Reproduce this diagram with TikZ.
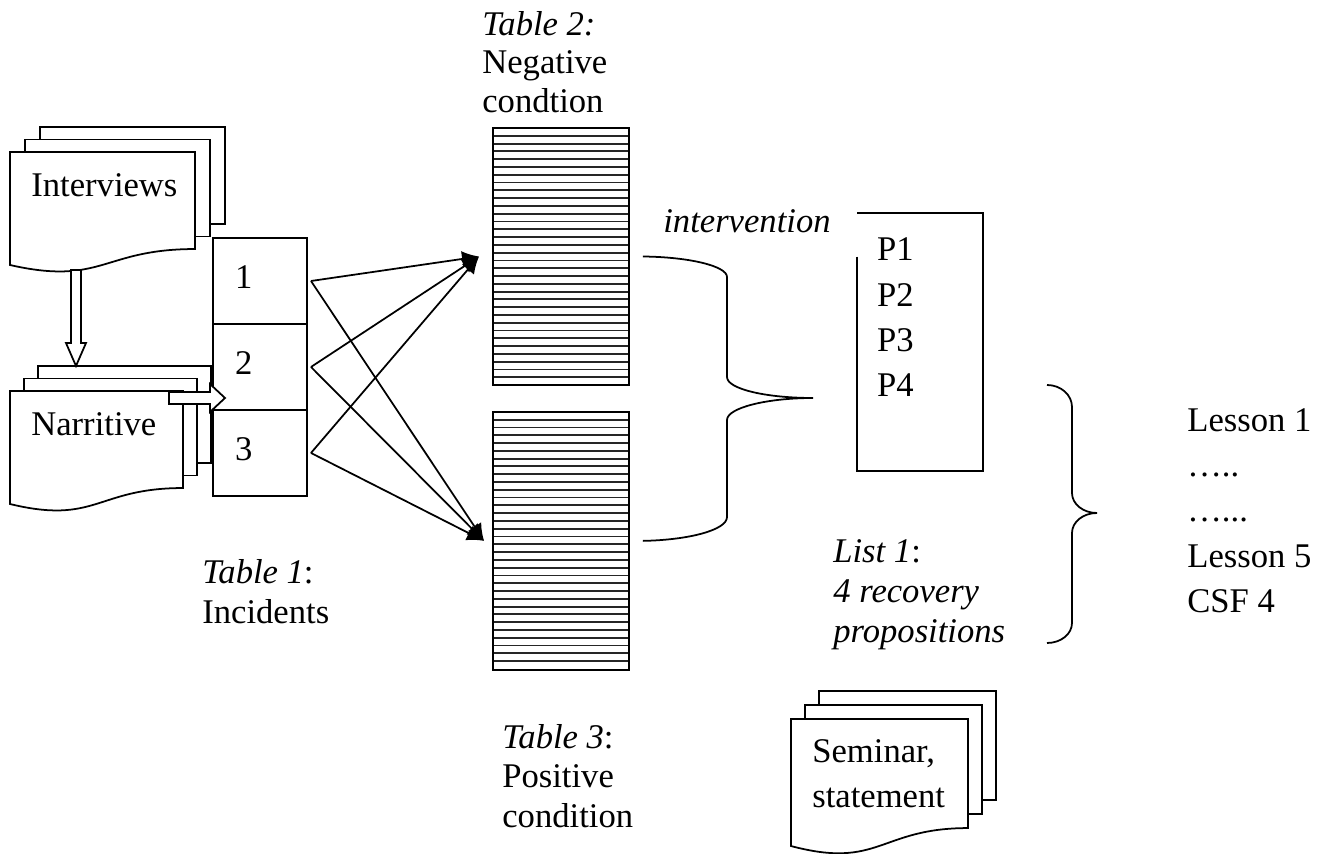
\documentclass[tikz,border=0pt]{standalone}
\usepackage{fontspec}
\setmainfont{Liberation Serif}
\usetikzlibrary{arrows.meta,positioning,calc}

% stack of pages: x, y (top left of front page), width, height, page shift x, y
\newcommand{\docstack}[6]{%
  \draw[page] (#1+2*#5,#2-2*#6) rectangle ++(#3,0.802*#4);
  \draw[page] (#1+#5,#2-#6) rectangle ++(#3,0.802*#4);
  \draw[page] (#1,#2) -- (#1+#3,#2) -- (#1+#3,#2+0.802*#4)
    .. controls (#1+0.5*#3,#2+0.802*#4) and (#1+0.5*#3,#2+1.1075*#4) .. (#1,#2+0.934*#4) -- cycle;}

\begin{document}
\begin{tikzpicture}[
    x=0.02cm, y=-0.02cm,
    font=\fontsize{19.7}{22.6}\selectfont,
    page/.style={draw, fill=white, line width=1pt},
    hollow/.style={draw, fill=white, line width=1pt},
    txt/.style={inner sep=0pt},
    tight/.style={inner sep=0pt, align=left, anchor=north west},
    loose/.style={inner sep=0pt, align=left, anchor=north west, font=\fontsize{19.7}{25.7}\selectfont},
    cell/.style={draw, line width=1pt, minimum width=1.88cm, minimum height=1.72cm, text width=1cm, inner xsep=0.44cm, align=left, text depth=0.4em, outer sep=0pt},
    stripes/.style={draw, line width=1.1pt, minimum width=2.72cm, minimum height=5.14cm, inner sep=0pt,
      path picture={\foreach \k in {1,...,32}
        \draw[black!85, line width=1.05pt] ([yshift=-\k*0.1558cm]path picture bounding box.north west) -- ([yshift=-\k*0.1558cm]path picture bounding box.north east);}},
    arr/.style={draw, line width=1pt, -{Latex[length=0.34cm,width=0.32cm]}},
    brace/.style={draw, line width=1pt}
]
    \useasboundingbox (0,0) rectangle (1326,854);

    % --- Sources ---
    \docstack{10}{152}{185}{121}{15}{12.5}
    \node[txt, anchor=base west] (ivtext) at (31,197) {Interviews};
    \docstack{10}{391}{173}{121}{14}{12.5}
    \node[txt, anchor=base west] (nrtext) at (31,436) {Narritive};

    % --- Table 1: incidents ---
    \node[cell] (cell1) at (260,281) {1};
    \node[cell, below=0pt of cell1] (cell2) {2};
    \node[cell, below=0pt of cell2] (cell3) {3};
    \node[tight, font=\fontsize{19.7}{22.8}\selectfont] (tab1lbl) at (202,559) {\textit{Table 1}:\\Incidents};

    % hollow arrows
    \coordinate (ivout) at (76,270);
    \coordinate (nrin) at (76,366);
    \coordinate (nrout) at (169,398);
    \coordinate (tabin) at (225,398);
    \draw[hollow] ($(ivout)+(-5,0)$) -- ($(nrin)+(-5,-23)$) -- ($(nrin)+(-10,-23)$) -- (nrin)
        -- ($(nrin)+(10,-23)$) -- ($(nrin)+(5,-23)$) -- ($(ivout)+(5,0)$) -- cycle;
    \draw[hollow] ($(nrout)+(0,-6)$) -- ($(tabin)+(-15,-6)$) -- ($(tabin)+(-15,-14)$) -- (tabin)
        -- ($(tabin)+(-15,14)$) -- ($(tabin)+(-15,6)$) -- ($(nrout)+(0,6)$) -- cycle;

    % --- Tables 2 and 3 ---
    \node[stripes] (tabneg) at (561,256.5) {};
    \node[stripes, minimum height=5.16cm, below=0.5cm of tabneg] (tabpos) {};
    \node[tight, font=\fontsize{19.7}{21.9}\selectfont] (tab2lbl) at (482,11) {\textit{Table 2:}\\Negative\\condtion};
    \node[tight, font=\fontsize{19.7}{22.5}\selectfont] (tab3lbl) at (502,724) {\textit{Table 3}:\\Positive\\condition};

    \foreach \c in {1,2,3} {
        \draw[arr] ([xshift=0.08cm]cell\c.east) -- ([xshift=-0.26cm]tabneg.west);
        \draw[arr] ([xshift=0.08cm]cell\c.east) -- ([xshift=-0.16cm]tabpos.west);
    }

    % --- Intervention brace ---
    \node[txt, anchor=base west] (intlbl) at (663,233) {\itshape intervention};
    \coordinate (tip1) at (813,398);
    \draw[brace] ([xshift=0.26cm]tabneg.east) .. controls (689,257) and (727,266) .. (727,277)
        -- (727,377) .. controls (727,389) and (766,398) .. (tip1)
        .. controls (766,398) and (727,408) .. (727,420)
        -- (727,517) .. controls (727,530) and (689,540) .. ([xshift=0.26cm]tabpos.east);

    % --- List 1: propositions ---
    \node[minimum width=2.52cm, minimum height=5.16cm, inner sep=0pt] (propbox) at (920,342) {};
    \draw[line width=1pt] ([yshift=-0.88cm]propbox.north west) -- (propbox.south west)
        -- (propbox.south east) -- (propbox.north east) -- (propbox.north west);
    \node[loose, below right=0.5cm and 0.4cm of propbox.north west] (plist) {P1\\P2\\P3\\P4};
    \node[tight, font=\fontsize{19.7}{22.8}\selectfont] (listlbl) at (833,539) {\textit{List 1}:\\\textit{4 recovery}\\\textit{propositions}};

    % --- Lessons brace ---
    \coordinate (b2top) at (1047,385);
    \coordinate (b2tip) at (1097,513);
    \coordinate (b2bot) at (1047,643);
    \draw[brace] (b2top) .. controls (1061,385) and (1072,395) .. (1072,407)
        -- (1072,493) .. controls (1072,504) and (1083,513) .. (b2tip)
        .. controls (1083,513) and (1072,522) .. (1072,533)
        -- (1072,623) .. controls (1072,634) and (1061,643) .. (b2bot);
    \node[loose, font=\fontsize{19.7}{25.8}\selectfont] (lessons) at (1187,408) {Lesson 1\\…..\\…...\\Lesson 5\\CSF 4};

    % --- Seminar ---
    \docstack{791}{719}{177}{136}{14}{14}
    \node[loose] (semtext) at (812,739) {Seminar,\\statement};

\end{tikzpicture}
\end{document}
